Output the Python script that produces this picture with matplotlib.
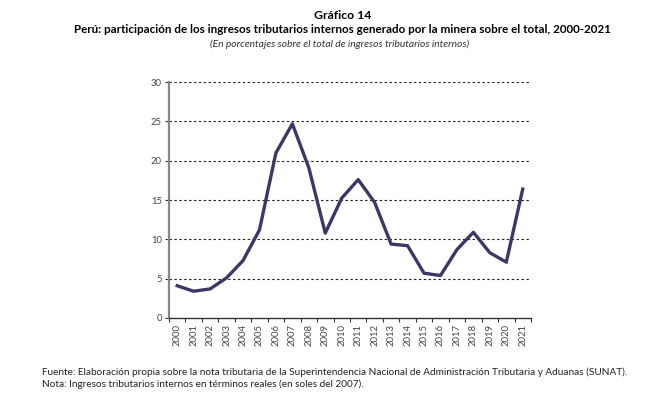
import matplotlib
matplotlib.use("Agg")
import matplotlib.pyplot as plt

# Données
annees = [str(a) for a in range(2000, 2022)]
participacion = [4.1, 3.4, 3.7, 5.1, 7.3, 11.2, 21.0, 24.7, 19.1, 10.8, 15.25,
                 17.6, 14.7, 9.4, 9.2, 5.7, 5.4, 8.7, 10.9, 8.3, 7.1, 16.4]
yticks = [0, 5, 10, 15, 20, 25, 30]

plt.rcParams['font.family'] = ['Lato', 'DejaVu Sans']

fig = plt.figure(figsize=(6.6, 3.95), dpi=100)
ax = fig.add_axes([0.256, 0.195, 0.5485, 0.597])

x = list(range(len(annees)))
ax.plot(x, participacion, color="#3b3766", linewidth=2.4, zorder=3)

# Grille horizontale en pointillés
for v in yticks[1:]:
    ax.axhline(v, color="#222222", linestyle=(0, (2.2, 2.2)), linewidth=0.8, zorder=1)

ax.set_xlim(-0.5, len(annees) - 0.5)
ax.set_ylim(0, 30)
ax.set_yticks(yticks)
ax.set_yticklabels([str(v) for v in yticks], fontsize=6.8, color="#444444")

# Axe catégoriel : graduations entre les catégories
ax.set_xticks([i - 0.5 for i in range(len(annees) + 1)])
ax.set_xticklabels([])
ax.set_xticks(x, minor=True)
ax.set_xticklabels(annees, minor=True, rotation=90, fontsize=6.8, color="#444444")
ax.tick_params(axis="x", which="major", length=3, width=0.8, color="#333333")
ax.tick_params(axis="x", which="minor", length=0, pad=4)
ax.tick_params(axis="y", length=3, width=0.8, color="#333333", pad=2)

for s in ["top", "right"]:
    ax.spines[s].set_visible(False)
ax.spines["left"].set_color("#888888")
ax.spines["left"].set_linewidth(1.6)
ax.spines["bottom"].set_color("#333333")
ax.spines["bottom"].set_linewidth(1.0)

# Titres
fig.text(0.519, 0.962, "Gráfico 14", ha="center", va="center", fontsize=8.8, fontweight="bold")
fig.text(0.519, 0.925, "Perú: participación de los ingresos tributarios internos generado por la minera sobre el total, 2000-2021",
         ha="center", va="center", fontsize=8.4, fontweight="bold")
fig.text(0.514, 0.889, "(En porcentajes sobre el total de ingresos tributarios internos)",
         ha="center", va="center", fontsize=7.4, style="italic", color="#333333")

# Sources
fig.text(0.064, 0.058, "Fuente: Elaboración propia sobre la nota tributaria de la Superintendencia Nacional de Administración Tributaria y Aduanas (SUNAT).",
         ha="left", va="center", fontsize=7.2, color="#222222")
fig.text(0.064, 0.028, "Nota: Ingresos tributarios internos en términos reales (en soles del 2007).",
         ha="left", va="center", fontsize=7.2, color="#222222")

fig.savefig("out.png", dpi=100)
